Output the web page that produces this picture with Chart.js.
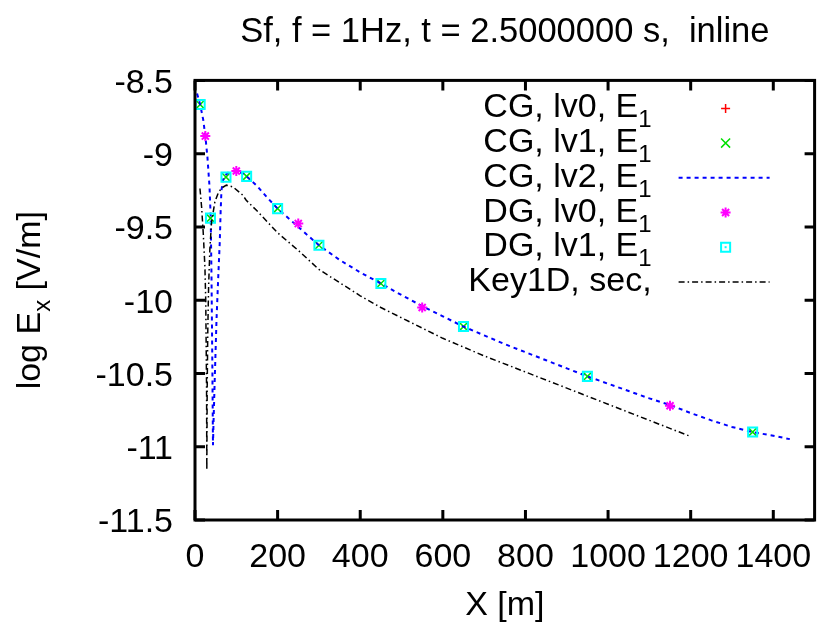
<!DOCTYPE html>
<html>
<head>
<meta charset="utf-8">
<script src="https://cdn.jsdelivr.net/npm/chart.js@4.4.1/dist/chart.umd.min.js"></script>
<style>
  body { margin: 0; background: #fff; }
  #caixa { width: 823px; height: 627px; }
</style>
</head>
<body>
<div id="caixa"><canvas id="grafico"></canvas></div>
<script>
// eixos
const xTicks = [0, 200, 400, 600, 800, 1000, 1200, 1400];
const yTicks = [-8.5, -9, -9.5, -10, -10.5, -11, -11.5];

// nomes das series (o "_" marca o indice)
const seriesLabels = ['CG, lv0, E_1', 'CG, lv1, E_1', 'CG, lv2, E_1', 'DG, lv0, E_1', 'DG, lv1, E_1', 'Key1D, sec,'];

// CG lv0: nenhum ponto aparece dentro do quadro
const cgLv0X = [];
const cgLv0Y = [];

// CG lv1 (x verde)
const cgLv1X = [12.5, 37.5, 75, 125, 200, 300, 450, 650, 950, 1350];
const cgLv1Y = [-8.665, -9.44, -9.16, -9.155, -9.375, -9.625, -9.886, -10.18, -10.52, -10.9];

// CG lv2 (linha azul pontilhada)
const cgLv2X = [5, 12.5, 20, 25, 30, 35, 38, 40, 42, 43.5, 45, 48, 52, 56, 60, 62, 64, 68, 72, 80, 90, 100, 115, 125, 150, 175, 200, 250, 300, 350, 400, 450, 500, 550, 600, 650, 700, 750, 800, 850, 900, 950, 1000, 1050, 1100, 1150, 1200, 1250, 1300, 1350, 1400, 1440];
const cgLv2Y = [-8.59, -8.665, -8.77, -8.88, -9.02, -9.22, -9.43, -9.85, -10.45, -10.99, -10.82, -10.52, -10.14, -9.86, -9.6, -9.4, -9.25, -9.18, -9.15, -9.13, -9.12, -9.118, -9.135, -9.155, -9.22, -9.3, -9.375, -9.5, -9.625, -9.725, -9.81, -9.886, -9.965, -10.04, -10.11, -10.18, -10.24, -10.3, -10.355, -10.41, -10.465, -10.52, -10.57, -10.62, -10.67, -10.715, -10.77, -10.82, -10.865, -10.9, -10.925, -10.948];

// DG lv0 (estrela magenta)
const dgLv0X = [25, 100, 250, 550, 1150];
const dgLv0Y = [-8.88, -9.118, -9.477, -10.05, -10.72];

// DG lv1 (quadrado ciano)
const dgLv1X = [12.5, 37.5, 75, 125, 200, 300, 450, 650, 950, 1350];
const dgLv1Y = [-8.665, -9.44, -9.16, -9.155, -9.375, -9.625, -9.886, -10.18, -10.52, -10.9];

// Key1D (traco-ponto preto)
const keyX = [12, 16, 20, 24, 26, 28, 28.6, 29.5, 31, 33, 36, 40, 48, 56, 64, 76, 92, 116, 124, 150, 200, 250, 300, 350, 400, 450, 500, 550, 600, 650, 700, 800, 900, 1000, 1100, 1200];
const keyY = [-9.238, -9.364, -9.543, -9.773, -10.0, -10.6, -11.16, -10.6, -10.2, -9.9, -9.65, -9.47, -9.33, -9.27, -9.235, -9.215, -9.227, -9.284, -9.318, -9.39, -9.54, -9.66, -9.79, -9.88, -9.97, -10.05, -10.12, -10.19, -10.26, -10.32, -10.38, -10.49, -10.6, -10.71, -10.82, -10.93];

const pares = (xs, ys) => xs.map((v, i) => ({ x: v, y: ys[i] }));

const FONTE = 'Liberation Sans, Arial, sans-serif';
Chart.defaults.font.family = FONTE;
Chart.defaults.font.size = 34;
Chart.defaults.color = '#000';

// texto com indice: "E_1" -> E com 1 rebaixado
function textoIndice(ctx, texto, x, y, align) {
    const i = texto.indexOf('_');
    const base = i < 0 ? texto : texto.slice(0, i);
    const ind = i < 0 ? '' : texto[i + 1];
    const resto = i < 0 ? '' : texto.slice(i + 2);
    ctx.font = '34px ' + FONTE;
    const wBase = ctx.measureText(base).width;
    const wResto = ctx.measureText(resto).width;
    ctx.font = '24px ' + FONTE;
    const wInd = ctx.measureText(ind).width;
    const total = wBase + wInd + wResto;
    let x0 = x;
    if (align === 'right') x0 = x - total;
    if (align === 'center') x0 = x - total / 2;
    ctx.textAlign = 'left';
    ctx.textBaseline = 'alphabetic';
    ctx.font = '34px ' + FONTE;
    ctx.fillText(base, x0, y);
    ctx.font = '24px ' + FONTE;
    ctx.fillText(ind, x0 + wBase, y + 10);
    ctx.font = '34px ' + FONTE;
    ctx.fillText(resto, x0 + wBase + wInd, y);
}

function marcador(ctx, estilo, x, y, r) {
    const d = Math.SQRT1_2 * r;
    ctx.beginPath();
    if (estilo === 'cross' || estilo === 'star') {
        ctx.moveTo(x - r, y); ctx.lineTo(x + r, y);
        ctx.moveTo(x, y - r); ctx.lineTo(x, y + r);
    }
    if (estilo === 'crossRot' || estilo === 'star') {
        ctx.moveTo(x - d, y - d); ctx.lineTo(x + d, y + d);
        ctx.moveTo(x - d, y + d); ctx.lineTo(x + d, y - d);
    }
    if (estilo === 'rect') {
        ctx.rect(x - d, y - d, 2 * d, 2 * d);
    }
    ctx.stroke();
    if (estilo === 'rect') ctx.fillRect(x - 1, y - 1, 2, 2);
}

// moldura, marcas internas, legenda e titulo do eixo y
const moldura = {
    id: 'moldura',
    afterDraw(chart) {
        const { ctx, chartArea: a, scales: { x, y } } = chart;
        ctx.save();
        ctx.strokeStyle = '#000';
        ctx.lineWidth = 3;
        ctx.strokeRect(a.left, a.top, a.right - a.left, a.bottom - a.top);
        ctx.beginPath();
        xTicks.forEach(v => {
            const px = x.getPixelForValue(v);
            ctx.moveTo(px, a.bottom); ctx.lineTo(px, a.bottom - 10);
            ctx.moveTo(px, a.top); ctx.lineTo(px, a.top + 10);
        });
        yTicks.forEach(v => {
            const py = y.getPixelForValue(v);
            ctx.moveTo(a.left, py); ctx.lineTo(a.left + 10, py);
            ctx.moveTo(a.right, py); ctx.lineTo(a.right - 10, py);
        });
        ctx.stroke();

        // legenda
        chart.data.datasets.forEach((ds, i) => {
            const yy = a.top + 28 + i * 34.7;
            ctx.fillStyle = '#000';
            textoIndice(ctx, ds.label, a.right - 163, yy + 9, 'right');
            ctx.strokeStyle = ds.borderColor;
            ctx.fillStyle = ds.borderColor;
            if (ds.showLine) {
                ctx.lineWidth = ds.borderWidth;
                ctx.setLineDash(ds.borderDash || []);
                ctx.beginPath();
                ctx.moveTo(a.right - 136, yy);
                ctx.lineTo(a.right - 45, yy);
                ctx.stroke();
                ctx.setLineDash([]);
            } else {
                ctx.lineWidth = ds.borderWidth;
                marcador(ctx, ds.pointStyle, a.right - 89, yy, ds.pointRadius);
            }
        });

        // titulo do eixo y
        ctx.fillStyle = '#000';
        ctx.translate(40, (a.top + a.bottom) / 2);
        ctx.rotate(-Math.PI / 2);
        textoIndice(ctx, 'log E_x [V/m]', 0, 0, 'center');
        ctx.restore();
    }
};

new Chart(document.getElementById('grafico'), {
    type: 'scatter',
    data: {
        datasets: [
            { label: seriesLabels[0], data: pares(cgLv0X, cgLv0Y), showLine: false, pointStyle: 'cross', pointRadius: 4.5, borderWidth: 1.5, borderColor: '#ff0000', backgroundColor: '#ff0000', order: 6 },
            { label: seriesLabels[1], data: pares(cgLv1X, cgLv1Y), showLine: false, pointStyle: 'crossRot', pointRadius: 6.4, borderWidth: 1.5, borderColor: '#00e000', backgroundColor: '#00e000', order: 5 },
            { label: seriesLabels[2], data: pares(cgLv2X, cgLv2Y), showLine: true, pointRadius: 0, borderWidth: 2, borderDash: [4, 4], borderColor: '#0000ff', tension: 0, order: 4 },
            { label: seriesLabels[3], data: pares(dgLv0X, dgLv0Y), showLine: false, pointStyle: 'star', pointRadius: 5, borderWidth: 2, borderColor: '#ff00ff', backgroundColor: '#ff00ff', order: 3 },
            { label: seriesLabels[4], data: pares(dgLv1X, dgLv1Y), showLine: false, pointStyle: 'rect', pointRadius: 6.4, borderWidth: 2, borderColor: '#00ffff', backgroundColor: 'rgba(0,0,0,0)', order: 2 },
            { label: seriesLabels[5], data: pares(keyX, keyY), showLine: true, pointRadius: 0, borderWidth: 1.5, borderDash: [6, 3, 1.5, 3], borderColor: '#000000', tension: 0, order: 1 }
        ]
    },
    options: {
        responsive: true,
        maintainAspectRatio: false,
        animation: false,
        events: [],
        layout: { padding: { left: 0, right: 4, top: 0, bottom: 0 } },
        plugins: {
            legend: { display: false },
            tooltip: { enabled: false },
            title: {
                display: true,
                fullSize: false,
                text: 'Sf, f = 1Hz, t = 2.5000000 s,  inline',
                color: '#000',
                font: { size: 34.5, weight: 'normal' },
                padding: { top: 12, bottom: 27 }
            }
        },
        scales: {
            x: {
                type: 'linear',
                min: 0,
                max: 1500,
                afterBuildTicks: s => { s.ticks = xTicks.map(v => ({ value: v })); },
                afterFit: s => { s.height = 107; s.paddingLeft = 0; s.paddingRight = 0; },
                ticks: { padding: 17, maxRotation: 0, autoSkip: false, callback: v => String(v) },
                grid: { display: false, drawTicks: false },
                border: { display: false },
                title: { display: true, text: 'X [m]', padding: { top: 0, bottom: 1 } }
            },
            y: {
                type: 'linear',
                min: -11.5,
                max: -8.5,
                afterBuildTicks: s => { s.ticks = yTicks.map(v => ({ value: v })); },
                afterFit: s => { s.width = 195; s.paddingTop = 0; s.paddingBottom = 0; },
                ticks: { padding: 22, labelOffset: 3, autoSkip: false, callback: v => String(v) },
                grid: { display: false, drawTicks: false },
                border: { display: false }
            }
        }
    },
    plugins: [moldura]
});
</script>
</body>
</html>
